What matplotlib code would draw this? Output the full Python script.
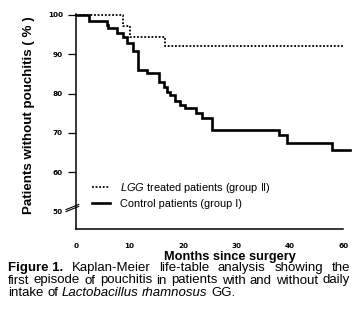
import matplotlib
matplotlib.use('Agg')
import matplotlib.pyplot as plt

# ---- data (months since surgery, % without pouchitis) ----
lgg_months = [0, 8.84, 10.09, 16.64, 49.9]
lgg_pct = [100, 97.2, 94.5, 92.0, 92.0]

ctrl_months = [0, 2.49, 5.74, 6.04, 7.61, 8.84, 9.53, 10.65, 11.64, 13.36,
               15.61, 16.45, 17.0, 17.57, 18.5, 19.44, 20.37, 22.43, 23.55,
               25.42, 37.94, 39.44, 47.85, 51.21]
ctrl_pct = [100, 98.5, 97.5, 96.6, 95.3, 94.5, 92.8, 90.8, 86.0, 85.2,
            83.0, 81.6, 80.5, 79.6, 78.0, 77.1, 76.3, 75.1, 73.8,
            70.7, 69.5, 67.4, 65.5, 65.5]

x_ticks = [0, 10, 20, 30, 40, 50]
x_ticklabels = ["0", "10", "20", "30", "40", "60"]
y_ticks = [50, 60, 70, 80, 90, 100]
y_ticklabels = ["50", "60", "70", "80", "90", "100"]

lgg_label = r"$\mathit{LGG}$ treated patients (group II)"
ctrl_label = "Control patients (group I)"

caption = [
    [("Figure 1.", "bold", "normal"), ("Kaplan-Meier", "normal", "normal"),
     ("life-table", "normal", "normal"), ("analysis", "normal", "normal"),
     ("showing", "normal", "normal"), ("the", "normal", "normal")],
    [(w, "normal", "normal") for w in
     "first episode of pouchitis in patients with and without daily".split()],
    [("intake", "normal", "normal"), ("of", "normal", "normal"),
     ("Lactobacillus", "normal", "italic"), ("rhamnosus", "normal", "italic"),
     ("GG.", "normal", "normal")],
]

plt.rcParams['font.family'] = ['Liberation Sans', 'DejaVu Sans']
plt.rcParams['mathtext.fontset'] = 'custom'
plt.rcParams['mathtext.it'] = 'Liberation Sans:italic'
plt.rcParams['mathtext.rm'] = 'Liberation Sans'

W, H = 361, 325
fig = plt.figure(figsize=(W / 100, H / 100), dpi=100)
# axes box in pixels: left 76, right 352, top 13, bottom 229
ax = fig.add_axes([76 / W, (H - 229) / H, (352 - 76) / W, (229 - 13) / H])

ax.step(lgg_months, lgg_pct, where='post', color='black', lw=1.3,
        linestyle=(0, (1, 1)), label=lgg_label, clip_on=False)
ax.step(ctrl_months, ctrl_pct, where='post', color='black', lw=1.9,
        label=ctrl_label, clip_on=False, solid_joinstyle='miter')

ax.set_xlim(0, 51.6)
ax.set_ylim(45.5, 100.5)

for s in ['top', 'right']:
    ax.spines[s].set_visible(False)
ax.spines['left'].set_linewidth(1.1)
ax.spines['bottom'].set_linewidth(1.1)
ax.spines['bottom'].set_bounds(0, 49.9)
ax.spines['left'].set_bounds(45.5, 100.2)

ax.set_xticks(x_ticks)
ax.set_xticklabels(x_ticklabels, fontfamily='DejaVu Sans', fontweight='bold', fontsize=5.2)
ax.tick_params(axis='x', length=0, pad=10)
ax.set_yticks(y_ticks)
ax.set_yticklabels(y_ticklabels, fontfamily='DejaVu Sans', fontweight='bold', fontsize=5.2)
ax.tick_params(axis='y', length=5.5, width=0.9, pad=4)
# no tick mark at the broken 50 level
ax.yaxis.get_major_ticks()[0].tick1line.set_visible(False)

# axis break marks on the left spine
yb = (50.6 - 45.5) / (100.5 - 45.5)
for dy in (0.0, 0.009):
    ax.plot([-0.036, 0.010], [yb - 0.012 + dy, yb + 0.012 + dy],
            transform=ax.transAxes, color='black', lw=0.8, clip_on=False)

ax.set_ylabel("Patients without pouchitis ( % )", fontweight='bold', fontsize=9.6)
ax.yaxis.set_label_coords(-0.15, 0.525)
ax.set_xlabel("Months since surgery", fontweight='bold', fontsize=9.2)
ax.xaxis.set_label_coords(0.558, -0.102)

ax.legend(loc='upper left', bbox_to_anchor=(0.058, 0.222), frameon=False,
          fontsize=7.9, handlelength=1.65, handletextpad=0.9, labelspacing=0.35,
          borderpad=0, borderaxespad=0)

# justified caption, word by word
cap_size = 9.5
x0, x1 = 8, 350
line_y = [268, 280.5, 293]
fig.canvas.draw()
r = fig.canvas.get_renderer()
for li, words in enumerate(caption):
    texts = []
    for w, wt, st in words:
        t = fig.text(0, 1 - line_y[li] / H, w, fontsize=cap_size, fontweight=wt,
                     fontstyle=st, va='center', ha='left')
        texts.append(t)
    widths = [t.get_window_extent(r).width for t in texts]
    if li < len(caption) - 1:
        gap = (x1 - x0 - sum(widths)) / (len(texts) - 1)
    else:
        gap = cap_size * 0.278 * 100 / 72
    x = x0
    for t, wd in zip(texts, widths):
        t.set_x(x / W)
        x += wd + gap

plt.savefig('out.png', dpi=100)
plt.close()
